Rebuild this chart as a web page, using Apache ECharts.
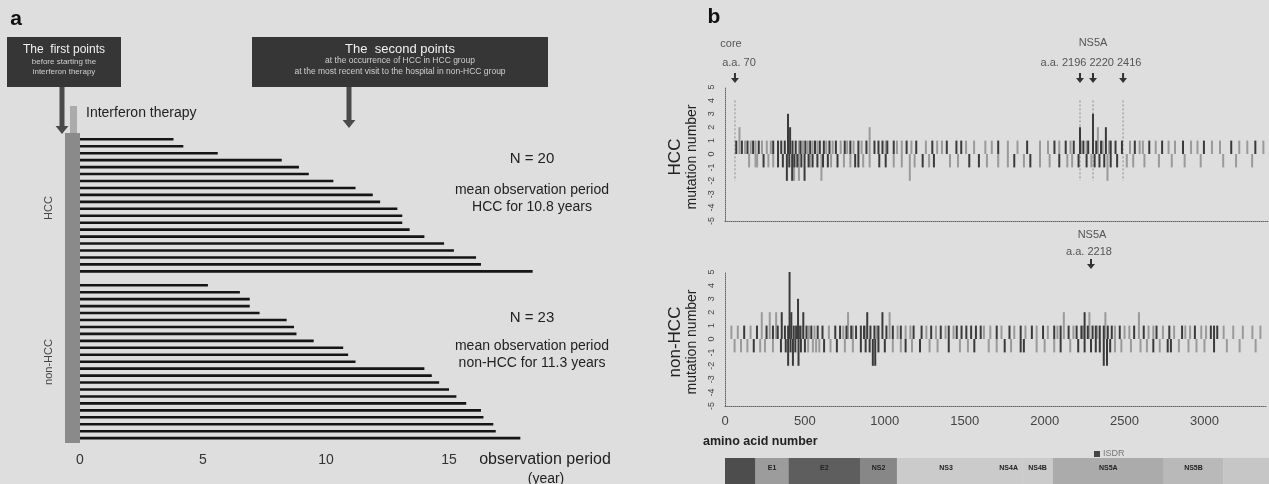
<!DOCTYPE html>
<html><head><meta charset="utf-8">
<script src="https://cdn.jsdelivr.net/npm/echarts@6/dist/echarts.min.js"></script>
<style>html,body{margin:0;padding:0;background:#dedede}#c{width:1269px;height:484px}</style>
</head><body><div id="c"></div><script>
// ---------- panel a data ----------
const hccYears = [3.8,4.2,5.6,8.2,8.9,9.3,10.3,11.2,11.9,12.2,12.9,13.1,13.1,13.4,14.0,14.8,15.2,16.1,16.3,18.4];
const nonHccYears = [5.2,6.5,6.9,6.9,7.3,8.4,8.7,8.8,9.5,10.7,10.9,11.2,14.0,14.3,14.6,15.0,15.3,15.7,16.3,16.4,16.8,16.9,17.9];
const yearTicks = [0,5,10,15];
// ---------- panel b data ([amino acid, mutation number]) ----------
const hccDark = [[70,1],[105,1],[140,1],[175,1],[210,1],[300,1],[330,1],[350,1],[372,1],[392,3],[405,2],[420,1],[440,1],[470,1],[500,1],[530,1],[560,1],[590,1],[615,1],[650,1],[690,1],[745,1],[780,1],[830,1],[880,1],[930,1],[955,1],[980,1],[1010,1],[1050,1],[1130,1],[1190,1],[1290,1],[1380,1],[1440,1],[1470,1],[1700,1],[1880,1],[2050,1],[2120,1],[2170,1],[2209,2],[2230,1],[2260,1],[2290,3],[2310,1],[2340,1],[2370,2],[2400,1],[2430,1],[2470,1],[2550,1],[2640,1],[2720,1],[2850,1],[2980,1],[3150,1],[3300,1],
  [240,-1],[330,-1],[360,-1],[385,-2],[400,-1],[418,-2],[432,-1],[450,-1],[475,-1],[495,-2],[520,-1],[545,-1],[575,-1],[610,-1],[640,-1],[700,-1],[810,-1],[830,-1],[960,-1],[1000,-1],[1230,-1],[1300,-1],[1520,-1],[1580,-1],[1800,-1],[1900,-1],[2080,-1],[2200,-1],[2250,-1],[2300,-1],[2330,-1],[2360,-1],[2400,-1],[2440,-1]];
const hccLight = [[90,2],[125,1],[160,1],[190,1],[230,1],[260,1],[285,1],[460,1],[485,1],[515,1],[545,1],[575,1],[630,1],[670,1],[720,1],[760,1],[800,1],[850,1],[900,2],[1000,1],[1070,1],[1100,1],[1160,1],[1250,1],[1320,1],[1350,1],[1500,1],[1550,1],[1620,1],[1660,1],[1760,1],[1820,1],[1960,1],[2010,1],[2080,1],[2150,1],[2215,1],[2250,1],[2320,2],[2350,1],[2390,1],[2520,1],[2580,1],[2600,1],[2680,1],[2760,1],[2800,1],[2900,1],[2940,1],[3030,1],[3080,1],[3200,1],[3250,1],[3350,1],
  [150,-1],[190,-1],[200,-1],[270,-1],[300,-1],[430,-2],[460,-2],[530,-1],[600,-2],[660,-1],[740,-1],[780,-1],[860,-1],[900,-1],[1050,-1],[1100,-1],[1150,-2],[1180,-1],[1270,-1],[1400,-1],[1450,-1],[1630,-1],[1700,-1],[1760,-1],[1860,-1],[1960,-1],[2020,-1],[2130,-1],[2160,-1],[2280,-1],[2380,-2],[2500,-1],[2540,-1],[2610,-1],[2700,-1],[2780,-1],[2860,-1],[2960,-1],[3100,-1],[3180,-1],[3280,-1]];
const nonDark = [[120,1],[200,1],[260,1],[300,1],[330,1],[355,2],[375,1],[395,1],[404,5],[415,2],[430,1],[445,1],[457,3],[470,1],[490,2],[510,1],[540,1],[580,1],[610,1],[690,1],[720,1],[760,1],[790,1],[820,1],[850,1],[870,1],[890,2],[910,1],[935,1],[960,1],[985,2],[1010,1],[1050,1],[1100,1],[1180,1],[1230,1],[1290,1],[1350,1],[1400,1],[1450,1],[1480,1],[1510,1],[1540,1],[1570,1],[1600,1],[1700,1],[1780,1],[1850,1],[1920,1],[1990,1],[2060,1],[2100,1],[2150,1],[2200,1],[2230,1],[2250,2],[2270,1],[2300,1],[2320,1],[2345,1],[2370,1],[2395,1],[2420,1],[2470,1],[2560,1],[2620,1],[2700,1],[2780,1],[2860,1],[2940,1],[3040,1],[3060,1],[3080,1],
  [180,-1],[350,-1],[380,-1],[395,-2],[410,-1],[425,-2],[440,-1],[460,-2],[475,-1],[500,-1],[620,-1],[700,-1],[850,-1],[880,-1],[905,-1],[925,-2],[940,-2],[960,-1],[1000,-1],[1130,-1],[1220,-1],[1400,-1],[1560,-1],[1750,-1],[1850,-1],[1870,-1],[2100,-1],[2210,-1],[2250,-1],[2290,-1],[2320,-1],[2345,-1],[2370,-2],[2390,-2],[2410,-1],[2680,-1],[2770,-1],[2790,-1],[3060,-1]];
const nonLight = [[40,1],[80,1],[160,1],[230,2],[280,2],[320,2],[480,1],[525,1],[560,1],[650,1],[740,1],[770,2],[800,1],[880,1],[950,1],[1030,2],[1080,1],[1130,1],[1160,1],[1260,1],[1320,1],[1380,1],[1430,1],[1620,1],[1660,1],[1730,1],[1810,1],[1880,1],[1950,1],[2020,1],[2080,1],[2120,2],[2180,1],[2240,1],[2280,2],[2330,1],[2380,2],[2440,1],[2500,1],[2530,1],[2590,2],[2650,1],[2680,1],[2740,1],[2810,1],[2880,1],[2910,1],[2980,1],[3010,1],[3120,1],[3180,1],[3240,1],[3300,1],[3350,1],
  [60,-1],[100,-1],[140,-1],[220,-1],[250,-1],[300,-1],[520,-1],[550,-1],[570,-1],[590,-1],[660,-1],[750,-1],[800,-1],[1050,-1],[1100,-1],[1170,-1],[1280,-1],[1330,-1],[1470,-1],[1520,-1],[1650,-1],[1700,-1],[1790,-1],[1950,-1],[2000,-1],[2060,-1],[2160,-1],[2440,-1],[2480,-1],[2540,-1],[2600,-1],[2640,-1],[2720,-1],[2840,-1],[2900,-1],[2950,-1],[3000,-1],[3140,-1],[3220,-1],[3320,-1]];
const aaTicks = [0,500,1000,1500,2000,2500,3000];
const mutTicks = [-5,-4,-3,-2,-1,0,1,2,3,4,5];
// genome schematic
const genomeNames  = ['','E1','E2','NS2','NS3','NS4A','NS4B','NS5A','NS5B',''];
const genomeStarts = [0,190,395,840,1070,1680,1850,2040,2730,3100];
const genomeEnds   = [190,395,840,1070,1680,1850,2040,2730,3100,3385];
const genomeShades = ['#4d4d4d','#9c9c9c','#5e5e5e','#878787','#cbcbcb','#cbcbcb','#cbcbcb','#ababab','#b9b9b9','#c6c6c6'];
// annotation arrows (as drawn)
const hccArrowAA = [62, 2209, 2290, 2477];
const nonArrowAA = [2290];

const FONT = '"Liberation Sans", Arial, sans-serif';
const chart = echarts.init(document.getElementById('c'));
const AA_MAX = 3385;

const aCats = hccYears.map((_, i) => 'HCC ' + (i + 1)).concat(['gap'], nonHccYears.map((_, i) => 'non-HCC ' + (i + 1)));
const aVals = hccYears.concat(['-'], nonHccYears);

function mutRender(color) {
  return function (params, api) {
    const x = api.value(0), v = api.value(1);
    const p0 = api.coord([x, 0]), p1 = api.coord([x, v]);
    return { type: 'rect', shape: { x: p0[0] - 1, y: Math.min(p0[1], p1[1]), width: 2, height: Math.abs(p1[1] - p0[1]) }, style: { fill: color } };
  };
}
const genomeData = genomeNames.map((n, i) => [genomeStarts[i], genomeEnds[i], n, genomeShades[i]]);

function bX(grid) {
  return { type: 'value', gridIndex: grid, min: 0, max: AA_MAX, interval: 500,
    axisLine: { show: true, onZero: false, lineStyle: { color: '#666', type: 'dotted' } },
    axisTick: { show: false }, splitLine: { show: false },
    axisLabel: { show: grid === 2, color: '#444', fontSize: 13, fontFamily: FONT, margin: 9,
      formatter: v => aaTicks.indexOf(v) >= 0 ? String(v) : '' } };
}
function bY(grid) {
  return { type: 'value', gridIndex: grid, min: -5, max: 5, interval: 1,
    axisLine: { show: true, lineStyle: { color: '#666', type: 'dotted' } },
    axisTick: { show: false }, splitLine: { show: false },
    axisLabel: { rotate: 90, color: '#444', fontSize: 9, fontFamily: FONT, margin: 9,
      formatter: v => mutTicks.indexOf(v) >= 0 ? String(v) : '' } };
}

const option = {
  backgroundColor: '#dedede',
  animation: false,
  grid: [
    { left: 80, top: 135.8, width: 492, height: 305.8 },
    { left: 725, top: 87, width: 544, height: 134 },
    { left: 725, top: 272, width: 544, height: 134 },
    { left: 725, top: 458, width: 544, height: 30 }
  ],
  xAxis: [
    { type: 'value', gridIndex: 0, min: 0, max: 20, interval: 5,
      axisLine: { show: false }, axisTick: { show: false }, splitLine: { show: false },
      axisLabel: { color: '#333', fontSize: 14, fontFamily: FONT, margin: 12,
        formatter: v => yearTicks.indexOf(v) >= 0 ? String(v) : '' } },
    bX(1), bX(2),
    { type: 'value', gridIndex: 3, min: 0, max: AA_MAX, show: false }
  ],
  yAxis: [
    { type: 'category', gridIndex: 0, data: aCats, inverse: true, show: false },
    bY(1), bY(2),
    { type: 'value', gridIndex: 3, min: 0, max: 1, show: false }
  ],
  series: [
    { type: 'bar', xAxisIndex: 0, yAxisIndex: 0, data: aVals, barWidth: 2.6, itemStyle: { color: '#151515' } },
    { type: 'custom', xAxisIndex: 1, yAxisIndex: 1, data: hccLight, renderItem: mutRender('#9a9a9a') },
    { type: 'custom', xAxisIndex: 1, yAxisIndex: 1, data: hccDark, renderItem: mutRender('#3a3a3a') },
    { type: 'custom', xAxisIndex: 2, yAxisIndex: 2, data: nonLight, renderItem: mutRender('#9a9a9a') },
    { type: 'custom', xAxisIndex: 2, yAxisIndex: 2, data: nonDark, renderItem: mutRender('#3a3a3a') },
    { type: 'custom', xAxisIndex: 3, yAxisIndex: 3, data: genomeData,
      renderItem: function (params, api) {
        const a = api.coord([api.value(0), 1]), b = api.coord([api.value(1), 0]);
        const d = genomeData[params.dataIndex];
        return { type: 'group', children: [
          { type: 'rect', shape: { x: a[0], y: a[1], width: b[0] - a[0], height: b[1] - a[1] }, style: { fill: d[3] } },
          { type: 'text', style: { text: d[2], x: (a[0] + b[0]) / 2, y: a[1] + 10, align: 'center', verticalAlign: 'middle', fill: '#222', font: 'bold 7px ' + FONT } }
        ] };
      } }
  ]
};
chart.setOption(option);

// ---------- decorations ----------
const g = [];
function txt(t, x, y, size, opt) {
  opt = opt || {};
  g.push({ type: 'text', x: x, y: y, rotation: opt.rot || 0, z: 10,
    style: { text: t, align: opt.align || 'center', verticalAlign: 'middle', fill: opt.color || '#222',
      font: (opt.bold ? 'bold ' : '') + size + 'px ' + FONT } });
}
function downArrow(x, y0, y1, w, head, color) {
  g.push({ type: 'rect', z: 9, shape: { x: x - w / 2, y: y0, width: w, height: y1 - y0 - head }, style: { fill: color } });
  g.push({ type: 'polygon', z: 9, shape: { points: [[x - head * 0.8, y1 - head], [x + head * 0.8, y1 - head], [x, y1]] }, style: { fill: color } });
}
// panel a
txt('a', 16, 19, 21, { bold: true, color: '#111' });
g.push({ type: 'rect', shape: { x: 7, y: 37, width: 114, height: 50 }, style: { fill: '#363636' } });
txt('The  first points', 64, 50, 12, { color: '#f2f2f2' });
txt('before starting the', 64, 62, 8, { color: '#cfcfcf' });
txt('interferon therapy', 64, 72, 8, { color: '#cfcfcf' });
g.push({ type: 'rect', shape: { x: 252, y: 37, width: 296, height: 50 }, style: { fill: '#363636' } });
txt('The  second points', 400, 49, 13, { color: '#f2f2f2' });
txt('at the occurrence of HCC in HCC group', 400, 61, 8.5, { color: '#cfcfcf' });
txt('at the most recent visit to the hospital in non-HCC group', 400, 72, 8.5, { color: '#cfcfcf' });
g.push({ type: 'rect', shape: { x: 65, y: 133, width: 15, height: 310 }, style: { fill: '#8a8a8a' } });
g.push({ type: 'rect', shape: { x: 70, y: 106, width: 7, height: 27 }, style: { fill: '#ababab' } });
downArrow(62, 87, 134, 5, 8, '#4a4a4a');
downArrow(349, 87, 128, 5, 8, '#4a4a4a');
txt('Interferon therapy', 86, 113, 14, { align: 'left', color: '#222' });
txt('HCC', 49, 208, 11, { rot: Math.PI / 2, color: '#444' });
txt('non-HCC', 49, 362, 11, { rot: Math.PI / 2, color: '#444' });
txt('N = 20', 532, 159, 15);
txt('mean observation period', 532, 190, 14);
txt('HCC for 10.8 years', 532, 207, 14);
txt('N = 23', 532, 318, 15);
txt('mean observation period', 532, 346, 14);
txt('non-HCC for 11.3 years', 532, 363, 14);
txt('observation period', 545, 460, 16, { color: '#222' });
txt('(year)', 546, 479, 14, { color: '#222' });
// panel b
txt('b', 714, 17, 21, { bold: true, color: '#111' });
txt('HCC', 675, 157, 17, { rot: Math.PI / 2, color: '#222' });
txt('mutation number', 692, 157, 14, { rot: Math.PI / 2, color: '#222' });
txt('non-HCC', 675, 342, 17, { rot: Math.PI / 2, color: '#222' });
txt('mutation number', 692, 342, 14, { rot: Math.PI / 2, color: '#222' });
txt('amino acid number', 703, 442, 12.5, { align: 'left', bold: true, color: '#222' });

const topH = chart.convertToPixel({ xAxisIndex: 1, yAxisIndex: 1 }, [0, 5])[1];
const topN = chart.convertToPixel({ xAxisIndex: 2, yAxisIndex: 2 }, [0, 5])[1];
hccArrowAA.forEach(aa => {
  const p = chart.convertToPixel({ xAxisIndex: 1, yAxisIndex: 1 }, [aa, 4]);
  const q = chart.convertToPixel({ xAxisIndex: 1, yAxisIndex: 1 }, [aa, -2]);
  g.push({ type: 'line', shape: { x1: p[0], y1: p[1], x2: q[0], y2: q[1] }, style: { stroke: '#8a8a8a', lineWidth: 1, lineDash: [2, 2] } });
  downArrow(p[0], topH - 14, topH - 4, 2, 5, '#333');
});
nonArrowAA.forEach(aa => {
  const p = chart.convertToPixel({ xAxisIndex: 2, yAxisIndex: 2 }, [aa, 5]);
  downArrow(p[0], topN - 13, topN - 3, 2, 5, '#333');
});
const cx = chart.convertToPixel({ xAxisIndex: 1 }, hccArrowAA[0]);
txt('core', cx - 4, 44, 11, { color: '#555' });
txt('a.a. 70', cx + 4, 63, 11, { color: '#555' });
const nx = chart.convertToPixel({ xAxisIndex: 1 }, hccArrowAA[1]);
txt('NS5A', nx + 13, 43, 11, { color: '#555' });
txt('a.a. 2196 2220 2416', nx + 11, 63, 11, { color: '#555' });
const mx = chart.convertToPixel({ xAxisIndex: 2 }, nonArrowAA[0]);
txt('NS5A', mx + 1, 235, 11, { color: '#555' });
txt('a.a. 2218', mx - 2, 252, 11, { color: '#555' });
// ISDR legend
g.push({ type: 'rect', shape: { x: 1094, y: 451, width: 6, height: 6 }, style: { fill: '#444' } });
txt('ISDR', 1103, 454, 9, { align: 'left', color: '#777' });

chart.setOption({ graphic: g });
</script></body></html>
